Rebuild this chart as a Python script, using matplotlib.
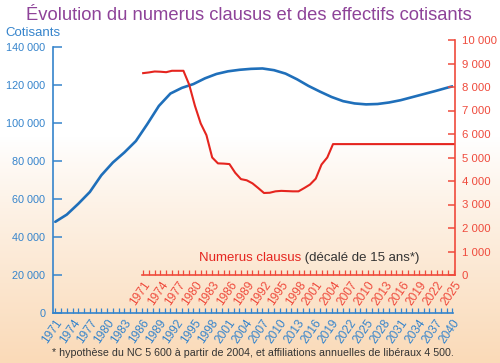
import numpy as np
import matplotlib
matplotlib.use("Agg")
import matplotlib.pyplot as plt

plt.rcParams['font.family'] = ['Liberation Sans', 'DejaVu Sans']

# effectifs cotisants (blue, bottom axis years)
cot_years = [1971, 1973, 1975, 1977, 1979, 1981, 1983, 1985, 1987, 1989,
             1991, 1993, 1995, 1997, 1999, 2001, 2003, 2005, 2007, 2009,
             2011, 2013, 2015, 2017, 2019, 2021, 2023, 2025, 2027, 2029,
             2031, 2033, 2035, 2037, 2039, 2040]
cotisants = [48000, 51800, 57500, 63700, 72500, 79200, 84500, 90500, 99500, 109000,
             115500, 118500, 120500, 123500, 125800, 127200, 128000, 128500, 128700, 127800,
             126000, 123000, 119500, 116500, 113700, 111500, 110300, 109800, 110000, 110800,
             112000, 113600, 115200, 116800, 118500, 119300]

# numerus clausus (red, shifted axis years)
nc_years = list(range(1971, 2026))
numerus = [8590, 8620, 8660, 8650, 8630, 8690, 8690, 8690, 8100, 7200,
           6450, 5950, 5000, 4750, 4740, 4720, 4350, 4080, 4030, 3900,
           3700, 3490, 3500, 3560, 3580, 3570, 3560, 3560, 3700, 3850,
           4100, 4700, 5000] + [5570] * 22

left_ticks = [0, 20000, 40000, 60000, 80000, 100000, 120000, 140000]
right_ticks = [0, 1000, 2000, 3000, 4000, 5000, 6000, 7000, 8000, 9000, 10000]

BLUE = '#1F6FBA'
BLUE_AX = '#3584CC'
RED = '#E5251F'
RED_AX = '#EF4A3C'
PURPLE = '#8E4399'

W, H = 500, 363
fig = plt.figure(figsize=(W / 100, H / 100), dpi=100)

# background gradient
bg = fig.add_axes([0, 0, 1, 1], zorder=-10)
ys = np.linspace(0, 1, 256)[:, None]
t = np.clip((ys - 0.38) / 0.62, 0, 1) ** 0.9
top = np.array([1.0, 1.0, 1.0])
bot = np.array([250, 218, 184]) / 255
img = (1 - t)[..., None] * top + t[..., None] * bot
img = np.repeat(img, 2, axis=1)
bg.imshow(img, aspect='auto', extent=[0, 1, 0, 1], origin='upper')
bg.axis('off')

def fx(px):
    return px / W

def fy(py):
    return 1 - py / H

# main axes (cotisants)
ax = fig.add_axes([fx(53), fy(313), fx(453) - fx(53), fy(47) - fy(313)])
ax.patch.set_alpha(0)
ax.plot(cot_years, cotisants, color=BLUE, lw=1.9, solid_capstyle='round')
ax.set_xlim(1970.6, 2040.1)
ax.set_ylim(0, 140000)
for s in ['top', 'right']:
    ax.spines[s].set_visible(False)
for s in ['left', 'bottom']:
    ax.spines[s].set_color(BLUE_AX)
    ax.spines[s].set_linewidth(1.2)
ax.set_yticks(left_ticks)
ax.set_yticklabels(['{:,}'.format(v).replace(',', ' ') for v in left_ticks])
ax.tick_params(axis='y', direction='in', length=6.5, width=1.1, colors=BLUE_AX,
               labelsize=7.8, pad=5.5)
xt = list(range(1971, 2041))
ax.set_xticks(xt)
ax.set_xticklabels([str(y) if (y - 1971) % 3 == 0 else '' for y in xt],
                   rotation=55, ha='right', va='top', rotation_mode='anchor')
ax.tick_params(axis='x', direction='in', length=3.8, width=0.9, colors=BLUE_AX,
               labelsize=8.6, pad=3)

# numerus clausus axes
ax2 = fig.add_axes([fx(142), fy(275), fx(455) - fx(142), fy(40) - fy(275)])
ax2.patch.set_alpha(0)
ax2.plot(nc_years, numerus, color=RED, lw=1.5)
ax2.set_xlim(1970.8, 2025.2)
ax2.set_ylim(0, 10000)
for s in ['top', 'left']:
    ax2.spines[s].set_visible(False)
for s in ['right', 'bottom']:
    ax2.spines[s].set_color(RED_AX)
    ax2.spines[s].set_linewidth(1.2)
ax2.yaxis.tick_right()
ax2.set_yticks(right_ticks)
ax2.set_yticklabels(['{:,}'.format(v).replace(',', ' ') for v in right_ticks])
ax2.tick_params(axis='y', direction='in', length=5, width=1.1, colors=RED_AX,
                labelsize=8.2, pad=5)
xt2 = list(range(1971, 2026))
ax2.set_xticks(xt2)
ax2.set_xticklabels([str(y) if (y - 1971) % 3 == 0 else '' for y in xt2],
                    rotation=55, ha='right', va='top', rotation_mode='anchor')
ax2.tick_params(axis='x', direction='in', length=3.8, width=0.9, colors=RED_AX,
                labelsize=8.6, pad=3)

# texts
fig.text(fx(249), fy(15), "Évolution du numerus clausus et des effectifs cotisants",
         color=PURPLE, fontsize=13.2, ha='center', va='center')
fig.text(fx(5), fy(33), "Cotisants", color=BLUE_AX, fontsize=9.5, ha='left', va='center')
t1 = fig.text(fx(199), fy(258), "Numerus clausus", color=RED, fontsize=9.5,
              ha='left', va='center')
ax.annotate(" (décalé de 15 ans*)", xy=(1, 0), xycoords=t1, color='#333333',
            fontsize=9.5, ha='left', va='bottom')
fig.text(fx(52), fy(353),
         "* hypothèse du NC 5 600 à partir de 2004, et affiliations annuelles de libéraux 4 500.",
         color='#333333', fontsize=7.7, ha='left', va='center')

fig.savefig('out.png', dpi=100)
